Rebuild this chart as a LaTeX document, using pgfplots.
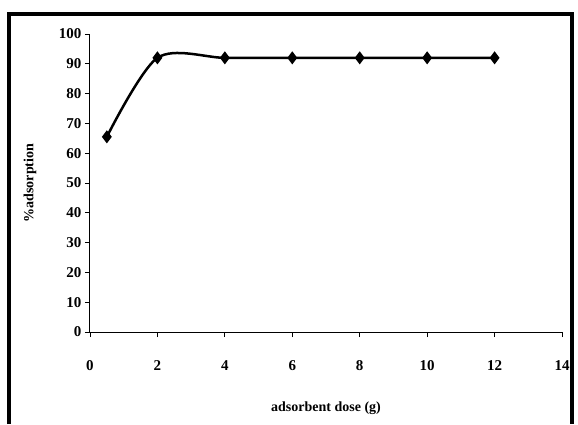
\documentclass[border=0pt]{standalone}
\usepackage{pgfplots}
\pgfplotsset{compat=1.18}
\usepackage{fontspec}
\setmainfont{Liberation Serif}
\begin{document}
\begin{tikzpicture}[x=1pt,y=1pt]
\useasboundingbox (-90,-92) rectangle (488,332);
\draw[line width=3.5pt] (-81,-92)--(-81,318)--(482,318)--(482,-92);
\begin{axis}[at={(0,0)},anchor=origin,scale only axis,width=472pt,height=298pt,
xmin=0,xmax=14,ymin=0,ymax=100,xtick={0,2,...,14},ytick={0,10,...,100},
axis x line*=bottom, axis y line*=left, axis line style={-,line width=1pt},
tick align=outside, tick style={black,line width=0.8pt},major tick length=5pt,
tick label style={font=\bfseries\fontsize{15}{17}\selectfont},
xticklabel style={yshift=-20pt},
/pgf/number format/assume math mode=true,
xlabel={\bfseries adsorbent dose (g)}, ylabel={\bfseries \%adsorption},
label style={font=\bfseries\fontsize{14}{16}\selectfont},
xlabel style={at={(axis description cs:0.5,0)},yshift=-76pt,anchor=center}, ylabel style={at={(axis description cs:-0.127,0.5)},anchor=center}]
\addplot[black,line width=2.5pt,smooth,tension=0.5,mark=diamond*,mark size=4.5pt] coordinates {(0.5,65.5)(2,92)(4,92)(6,92)(8,92)(10,92)(12,92)};
\end{axis}
\end{tikzpicture}
\end{document}
